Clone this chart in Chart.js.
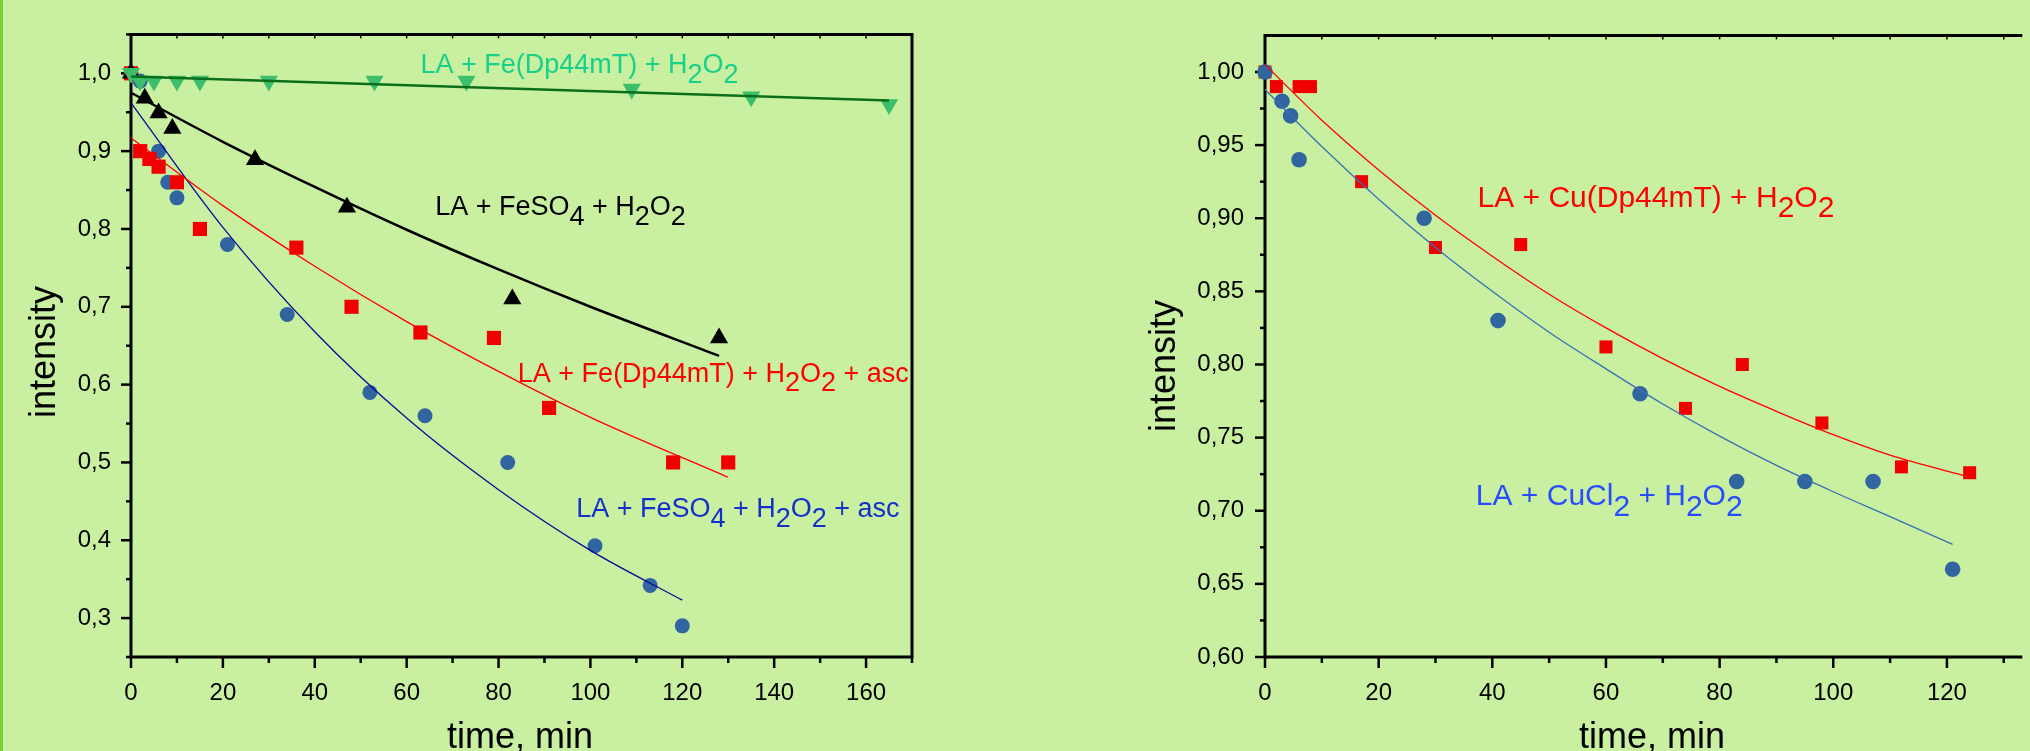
<!DOCTYPE html>
<html>
<head>
<meta charset="utf-8">
<script src="https://cdn.jsdelivr.net/npm/chart.js@4.4.1/dist/chart.umd.min.js"></script>
<style>
  html, body { margin: 0; padding: 0; background: #c8f0a0; overflow: hidden; }
  body { width: 2030px; height: 751px; position: relative; }
  .box { position: absolute; top: 0; height: 751px; }
  #leftBox { left: 0; width: 1000px; }
  #rightBox { left: 1000px; width: 1030px; }
  #edge { position: absolute; left: 0; top: 0; width: 3px; height: 751px; background: #7ccc3c; }
</style>
</head>
<body>
<div class="box" id="leftBox"><canvas id="feChart"></canvas></div>
<div class="box" id="rightBox"><canvas id="cuChart"></canvas></div>
<div id="edge"></div>
<script>
// ---- left panel (Fe) ----
const feTicksX = [0, 10, 20, 30, 40, 50, 60, 70, 80, 90, 100, 110, 120, 130, 140, 150, 160, 170];
const feLabelsX = [0, 20, 40, 60, 80, 100, 120, 140, 160];
const feTicksY = [0.25, 0.3, 0.35, 0.4, 0.45, 0.5, 0.55, 0.6, 0.65, 0.7, 0.75, 0.8, 0.85, 0.9, 0.95, 1.0, 1.05];
const feLabelsY = [0.3, 0.4, 0.5, 0.6, 0.7, 0.8, 0.9, 1.0];

const feGreenT = [0, 2, 5, 10, 15, 30, 53, 73, 109, 135, 165];
const feGreenV = [1.0, 0.99, 0.99, 0.99, 0.99, 0.99, 0.99, 0.99, 0.98, 0.97, 0.96];
const feBlackT = [0, 3, 6, 9, 27, 47, 83, 128];
const feBlackV = [1.0, 0.968, 0.949, 0.929, 0.889, 0.828, 0.71, 0.66];
const feRedT = [0, 2, 4, 6, 10, 15, 36, 48, 63, 79, 91, 118, 130];
const feRedV = [1.0, 0.90, 0.89, 0.88, 0.86, 0.80, 0.776, 0.70, 0.667, 0.66, 0.57, 0.50, 0.50];
const feBlueT = [0, 2, 6, 8, 10, 21, 34, 52, 64, 82, 101, 113, 120];
const feBlueV = [1.0, 0.99, 0.90, 0.86, 0.84, 0.78, 0.69, 0.59, 0.56, 0.50, 0.393, 0.342, 0.29];

// fitted curves
const feGreenFitT = [0, 165];
const feGreenFitV = [0.996, 0.965];
const feBlackFitT = [0, 20, 40, 60, 80, 100, 128];
const feBlackFitV = [0.975, 0.912, 0.854, 0.799, 0.748, 0.700, 0.637];
const feRedFitT = [0, 20, 40, 60, 80, 100, 130];
const feRedFitV = [0.917, 0.830, 0.752, 0.681, 0.617, 0.558, 0.481];
const feBlueFitT = [0, 20, 40, 60, 80, 100, 120];
const feBlueFitV = [0.962, 0.802, 0.668, 0.557, 0.465, 0.387, 0.323];

// ---- right panel (Cu) ----
const cuTicksX = [0, 10, 20, 30, 40, 50, 60, 70, 80, 90, 100, 110, 120, 130];
const cuLabelsX = [0, 20, 40, 60, 80, 100, 120];
const cuTicksY = [0.6, 0.625, 0.65, 0.675, 0.7, 0.725, 0.75, 0.775, 0.8, 0.825, 0.85, 0.875, 0.9, 0.925, 0.95, 0.975, 1.0];
const cuLabelsY = [0.6, 0.65, 0.7, 0.75, 0.8, 0.85, 0.9, 0.95, 1.0];

const cuRedT = [0, 2, 6, 8, 17, 30, 45, 60, 74, 84, 98, 112, 124];
const cuRedV = [1.0, 0.99, 0.99, 0.99, 0.925, 0.88, 0.882, 0.812, 0.77, 0.80, 0.76, 0.73, 0.726];
const cuBlueT = [0, 3, 4.5, 6, 28, 41, 66, 83, 95, 107, 121];
const cuBlueV = [1.0, 0.98, 0.97, 0.94, 0.90, 0.83, 0.78, 0.72, 0.72, 0.72, 0.66];

const cuRedFitT = [0, 10, 20, 30, 40, 50, 60, 70, 80, 90, 100, 110, 124];
const cuRedFitV = [1.005, 0.967, 0.933, 0.902, 0.874, 0.848, 0.825, 0.804, 0.785, 0.768, 0.752, 0.738, 0.723];
const cuBlueFitT = [0, 10, 20, 30, 40, 50, 60, 70, 80, 90, 100, 110, 121];
const cuBlueFitV = [0.988, 0.949, 0.913, 0.880, 0.850, 0.822, 0.797, 0.773, 0.751, 0.731, 0.713, 0.696, 0.677];

const FONT = '"Liberation Sans", Arial, sans-serif';
Chart.defaults.font.family = FONT;
Chart.defaults.color = '#000';

function pts(ts, vs) {
    return ts.map((t, i) => ({ x: t, y: vs[i] }));
}

function fit(ts, vs, color, width) {
    return {
        data: pts(ts, vs), showLine: true, pointRadius: 0, borderColor: color,
        borderWidth: width, cubicInterpolationMode: 'monotone', clip: false
    };
}

function marks(ts, vs, style, color, r, rot) {
    return {
        data: pts(ts, vs), showLine: false, pointStyle: style, pointRadius: r,
        pointRotation: rot || 0, backgroundColor: color, borderColor: color,
        pointBorderWidth: 0, clip: false
    };
}

// text with subscripts: parts starting with "_" are lowered
function drawRich(ctx, parts, x, y, size, color) {
    ctx.font = size + 'px ' + FONT;
    ctx.fillStyle = color;
    ctx.textAlign = 'left';
    ctx.textBaseline = 'alphabetic';
    let cx = x;
    parts.forEach(p => {
        const sub = p.startsWith('_');
        const s = sub ? p.slice(1) : p;
        ctx.fillText(s, cx, y + (sub ? size * 0.35 : 0));
        cx += ctx.measureText(s).width;
    });
}

const framePlugin = {
    id: 'frame',
    beforeDatasetsDraw(chart, args, o) {
        const ctx = chart.ctx, a = chart.chartArea;
        const xs = chart.scales.x, ys = chart.scales.y;
        ctx.save();
        ctx.strokeStyle = '#000';
        ctx.lineCap = 'square';
        ctx.lineWidth = 3;
        ctx.beginPath();
        ctx.moveTo(a.left, a.top); ctx.lineTo(a.left, a.bottom);
        ctx.moveTo(a.left, a.bottom); ctx.lineTo(a.right, a.bottom);
        ctx.moveTo(a.left, a.top); ctx.lineTo(a.right, a.top);
        if (o.rightBorder) { ctx.moveTo(a.right, a.top); ctx.lineTo(a.right, a.bottom); }
        ctx.stroke();
        ctx.lineCap = 'butt';
        xs.ticks.forEach(t => {
            const px = xs.getPixelForValue(t.value);
            const major = o.majorX.includes(t.value);
            ctx.lineWidth = 2.5;
            ctx.beginPath();
            ctx.moveTo(px, a.bottom); ctx.lineTo(px, a.bottom + (major ? 11 : 6));
            ctx.stroke();
            ctx.lineWidth = 1.5;
            ctx.beginPath();
            ctx.moveTo(px, a.top); ctx.lineTo(px, a.top + 4);
            ctx.stroke();
        });
        ys.ticks.forEach(t => {
            const py = ys.getPixelForValue(t.value);
            const major = o.majorY.some(v => Math.abs(v - t.value) < 1e-6);
            ctx.lineWidth = 2.5;
            ctx.beginPath();
            ctx.moveTo(a.left, py); ctx.lineTo(a.left - (major ? 10 : 5), py);
            ctx.stroke();
        });
        ctx.restore();
    },
    afterDraw(chart, args, o) {
        const ctx = chart.ctx;
        const xs = chart.scales.x, ys = chart.scales.y;
        ctx.save();
        o.notes.forEach(n => {
            drawRich(ctx, n.parts, xs.getPixelForValue(n.t), ys.getPixelForValue(n.v), n.size, n.color);
        });
        ctx.font = '36px ' + FONT;
        ctx.fillStyle = '#000';
        ctx.textAlign = 'center';
        ctx.textBaseline = 'alphabetic';
        ctx.fillText('time, min', o.xTitle[0], o.xTitle[1]);
        ctx.translate(o.yTitle[0], o.yTitle[1]);
        ctx.rotate(-Math.PI / 2);
        ctx.fillText('intensity', 0, 0);
        ctx.restore();
    }
};

function makeChart(id, cfg) {
    const ctx = document.getElementById(id).getContext('2d');
    return new Chart(ctx, {
        type: 'scatter',
        data: { datasets: cfg.datasets },
        options: {
            responsive: true,
            maintainAspectRatio: false,
            animation: false,
            events: [],
            layout: { padding: { left: 0, top: cfg.top, right: cfg.right, bottom: 0 } },
            plugins: {
                legend: { display: false },
                tooltip: { enabled: false },
                frame: cfg.frame
            },
            scales: {
                x: {
                    type: 'linear', min: cfg.xMin, max: cfg.xMax,
                    grid: { display: false, drawTicks: false },
                    border: { display: false },
                    afterBuildTicks: s => { s.ticks = cfg.ticksX.map(v => ({ value: v })); },
                    afterFit: s => { s.height = cfg.xHeight; },
                    ticks: {
                        autoSkip: false, maxRotation: 0, padding: 22,
                        font: { size: 24 },
                        callback: v => cfg.labelsX.includes(v) ? String(v) : ''
                    }
                },
                y: {
                    type: 'linear', min: cfg.yMin, max: cfg.yMax,
                    grid: { display: false, drawTicks: false },
                    border: { display: false },
                    afterBuildTicks: s => { s.ticks = cfg.ticksY.map(v => ({ value: v })); },
                    afterFit: s => { s.width = cfg.yWidth; },
                    ticks: {
                        autoSkip: false, padding: cfg.yPad,
                        font: { size: 24 },
                        callback: v => cfg.labelsY.some(l => Math.abs(l - v) < 1e-6)
                            ? v.toFixed(cfg.dec).replace('.', ',') : ''
                    }
                }
            }
        },
        plugins: [framePlugin]
    });
}

document.addEventListener('DOMContentLoaded', function() {
    makeChart('feChart', {
        xMin: 0, xMax: 170, yMin: 0.25, yMax: 1.05,
        ticksX: feTicksX, labelsX: feLabelsX, ticksY: feTicksY, labelsY: feLabelsY,
        dec: 1, top: 29, right: 88, xHeight: 94, yWidth: 131, yPad: 20,
        datasets: [
            fit(feGreenFitT, feGreenFitV, '#0b6e1a', 2.5),
            fit(feBlackFitT, feBlackFitV, '#000000', 2.5),
            fit(feRedFitT, feRedFitV, '#ff0000', 1.3),
            fit(feBlueFitT, feBlueFitV, '#0a0a96', 1.3),
            marks(feGreenT, feGreenV, 'triangle', '#3cbe6c', 10.5, 180),
            marks(feBlackT, feBlackV, 'triangle', '#000000', 10.5, 0),
            marks(feRedT, feRedV, 'rect', '#f00000', 10, 0),
            marks(feBlueT, feBlueV, 'circle', '#3165a0', 7.5, 0)
        ],
        frame: {
            majorX: feLabelsX, majorY: feLabelsY, rightBorder: true,
            xTitle: [520, 748], yTitle: [55, 352],
            notes: [
                { t: 63, v: 1.0, size: 27, color: '#17d08a', parts: ['LA + Fe(Dp44mT) + H', '_2', 'O', '_2'] },
                { t: 66.2, v: 0.8175, size: 27, color: '#000000', parts: ['LA + FeSO', '_4', ' + H', '_2', 'O', '_2'] },
                { t: 84.2, v: 0.6033, size: 27, color: '#ff0000', parts: ['LA + Fe(Dp44mT) + H', '_2', 'O', '_2', ' + asc'] },
                { t: 96.9, v: 0.4293, size: 27, color: '#1530c8', parts: ['LA + FeSO', '_4', ' + H', '_2', 'O', '_2', ' + asc'] }
            ]
        }
    });

    makeChart('cuChart', {
        xMin: 0, xMax: 133, yMin: 0.6, yMax: 1.025,
        ticksX: cuTicksX, labelsX: cuLabelsX, ticksY: cuTicksY, labelsY: cuLabelsY,
        dec: 2, top: 32, right: 0, xHeight: 94, yWidth: 265, yPad: 21,
        datasets: [
            fit(cuRedFitT, cuRedFitV, '#ff0000', 1.3),
            fit(cuBlueFitT, cuBlueFitV, '#3a6fb5', 1.3),
            marks(cuBlueT, cuBlueV, 'circle', '#3165a0', 7.8, 0),
            marks(cuRedT, cuRedV, 'rect', '#f00000', 9.2, 0)
        ],
        frame: {
            majorX: cuLabelsX, majorY: cuLabelsY, rightBorder: false,
            xTitle: [652, 748], yTitle: [175, 366],
            notes: [
                { t: 37.4, v: 0.9077, size: 30, color: '#ff0000', parts: ['LA + Cu(Dp44mT) + H', '_2', 'O', '_2'] },
                { t: 37.1, v: 0.7036, size: 30, color: '#2a4cff', parts: ['LA + CuCl', '_2', ' + H', '_2', 'O', '_2'] }
            ]
        }
    });
});
</script>
</body>
</html>
